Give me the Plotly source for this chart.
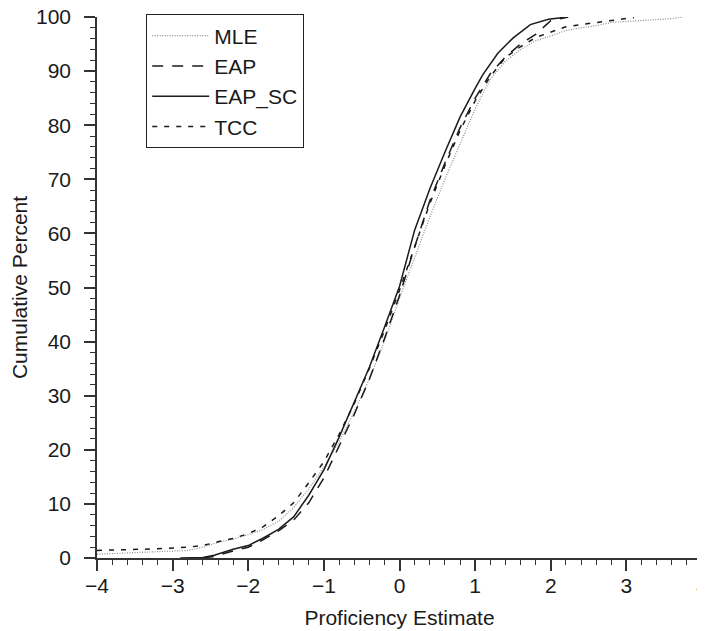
import plotly.graph_objects as go

# Series data
mle_x = [-4.0, -3.6, -3.2, -2.8, -2.6, -2.4, -2.2, -2.0, -1.8, -1.6, -1.4, -1.2, -1.0, -0.8, -0.6, -0.4, -0.2,
         0.0, 0.2, 0.4, 0.6, 0.8, 1.0, 1.2, 1.4, 1.6, 1.8, 2.0, 2.2, 2.4, 2.6, 2.8, 3.0, 3.2, 3.4, 3.6, 3.75]
mle_y = [0.7, 0.9, 1.1, 1.4, 2.0, 2.9, 3.5, 4.3, 5.3, 6.8, 9.3, 12.8, 16.8, 21.5, 27.0, 33.0, 40.0,
         48.0, 55.5, 63.0, 70.0, 76.5, 83.0, 88.5, 91.8, 94.0, 95.6, 96.5, 97.5, 98.0, 98.4, 99.0, 99.2, 99.4, 99.5, 99.7, 100.0]

eap_x = [-2.6, -2.45, -2.2, -2.0, -1.8, -1.6, -1.4, -1.2, -1.0, -0.8, -0.6, -0.4, -0.2, 0.0, 0.2, 0.4,
         0.6, 0.8, 1.0, 1.2, 1.4, 1.6, 1.8, 2.0, 2.23]
eap_y = [0.0, 0.3, 1.3, 2.0, 3.4, 5.0, 7.0, 10.2, 14.8, 20.5, 26.5, 33.0, 40.5, 48.5, 57.5, 66.0,
         73.0, 79.5, 85.0, 89.5, 92.6, 95.0, 96.8, 99.3, 100.0]

eapsc_x = [-2.9, -2.6, -2.45, -2.2, -2.0, -1.8, -1.6, -1.4, -1.2, -1.0, -0.8, -0.6, -0.4, -0.2, 0.0, 0.2,
           0.4, 0.6, 0.8, 1.0, 1.1, 1.3, 1.5, 1.73, 1.97, 2.23]
eapsc_y = [0.0, 0.1, 0.5, 1.6, 2.3, 3.7, 5.3, 7.6, 11.6, 16.3, 22.3, 28.6, 35.2, 42.6, 50.2, 60.6,
           68.2, 75.0, 81.5, 86.8, 89.3, 93.3, 96.1, 98.6, 99.6, 100.0]

tcc_x = [-4.0, -3.6, -3.2, -2.8, -2.6, -2.4, -2.2, -2.0, -1.8, -1.6, -1.4, -1.2, -1.0, -0.8, -0.6, -0.4, -0.2,
         0.0, 0.2, 0.4, 0.6, 0.8, 1.0, 1.2, 1.4, 1.6, 1.8, 2.0, 2.2, 2.4, 2.6, 2.8, 3.1]
tcc_y = [1.4, 1.5, 1.7, 2.0, 2.3, 3.0, 3.6, 4.5, 5.8, 7.8, 10.2, 13.9, 17.8, 22.8, 28.5, 35.0, 42.0,
         49.5, 57.5, 65.5, 72.5, 79.0, 84.5, 89.0, 92.5, 94.5, 96.2, 97.2, 98.2, 98.6, 99.0, 99.3, 99.9]

x_ticks = [-4, -3, -2, -1, 0, 1, 2, 3, 4]
x_tick_labels = ["\u22124", "\u22123", "\u22122", "\u22121", "0", "1", "2", "3", "4"]
y_ticks = [0, 10, 20, 30, 40, 50, 60, 70, 80, 90, 100]

FONT = "Liberation Sans, Arial, Helvetica, sans-serif"
INK = "#1a1a1a"

fig = go.Figure()
fig.add_trace(go.Scatter(x=mle_x, y=mle_y, mode="lines", name="MLE",
                         line=dict(color="#8a8a8a", width=1.2, dash="1px,1.5px")))
fig.add_trace(go.Scatter(x=eap_x, y=eap_y, mode="lines", name="EAP",
                         line=dict(color=INK, width=1.5, dash="11px,9px")))
fig.add_trace(go.Scatter(x=eapsc_x, y=eapsc_y, mode="lines", name="EAP_SC",
                         line=dict(color=INK, width=1.5)))
fig.add_trace(go.Scatter(x=tcc_x, y=tcc_y, mode="lines", name="TCC",
                         line=dict(color=INK, width=1.5, dash="5px,7px")))

axis_common = dict(
    showline=True, linecolor="#333333", linewidth=1.5, mirror=False,
    showgrid=False, zeroline=False,
    ticks="outside", ticklen=11, tickwidth=1.5, tickcolor="#333333",
    tickfont=dict(family=FONT, size=21, color=INK),
    ticklabeloverflow="allow",
)

fig.update_xaxes(
    range=[-4, 4], tickvals=x_ticks, ticktext=x_tick_labels,
    minor=dict(dtick=0.2, ticks="outside", ticklen=5, tickwidth=1.2, tickcolor="#333333"),
    title=dict(text="Proficiency Estimate", font=dict(family=FONT, size=21, color=INK), standoff=14),
    ticklabelstandoff=-3,
    **axis_common,
)
fig.update_yaxes(
    range=[0, 100], tickvals=y_ticks,
    minor=dict(dtick=2, ticks="outside", ticklen=5, tickwidth=1.2, tickcolor="#333333"),
    title=dict(text="Cumulative Percent", font=dict(family=FONT, size=21, color=INK), standoff=4),
    ticklabelstandoff=9,
    **axis_common,
)

fig.update_layout(
    width=697, height=623,
    margin=dict(l=89, r=3, t=9, b=73, autoexpand=False),
    paper_bgcolor="white", plot_bgcolor="white",
    showlegend=True,
    legend=dict(
        x=0.081, y=1.005, xanchor="left", yanchor="top",
        bgcolor="white", bordercolor="#222222", borderwidth=1.2,
        font=dict(family=FONT, size=21, color=INK),
        itemwidth=57,
    ),
)

fig.write_html("out.html")
